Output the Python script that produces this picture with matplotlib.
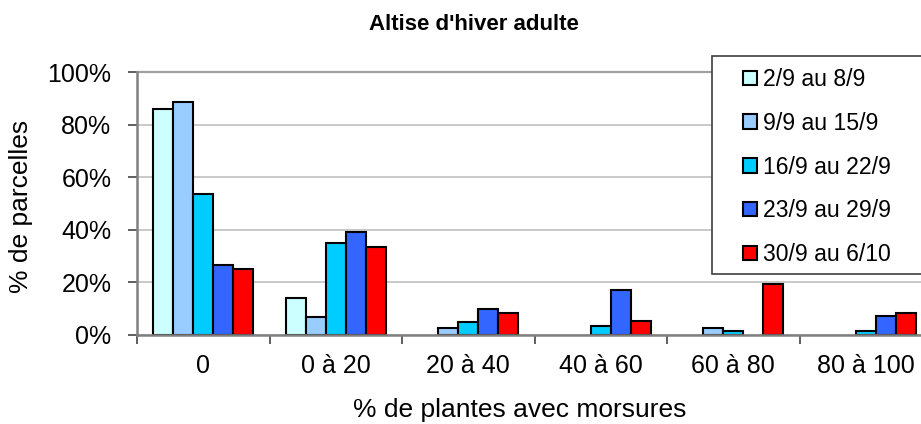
import matplotlib
matplotlib.use("Agg")
import matplotlib.pyplot as plt
from matplotlib.patches import Rectangle
import numpy as np

plt.rcParams['font.family'] = ['Liberation Sans', 'DejaVu Sans']

categories = ["0", "0 à 20", "20 à 40", "40 à 60", "60 à 80", "80 à 100"]
series_names = ["2/9 au 8/9", "9/9 au 15/9", "16/9 au 22/9", "23/9 au 29/9", "30/9 au 6/10"]
s1 = [85.8, 14.2, 0.0, 0.0, 0.0, 0.0]
s2 = [88.7, 6.8, 2.5, 0.0, 2.5, 0.0]
s3 = [53.5, 35.1, 5.1, 3.4, 1.6, 1.6]
s4 = [26.7, 39.0, 10.0, 17.1, 0.0, 7.3]
s5 = [25.0, 33.5, 8.2, 5.4, 19.4, 8.5]
series = [s1, s2, s3, s4, s5]
colors = ["#CCFFFF", "#99CCFF", "#00CCFF", "#3366FF", "#FF0000"]
yticks = [0, 20, 40, 60, 80, 100]

W, H = 921, 424
fig = plt.figure(figsize=(W / 100, H / 100), dpi=100)
ax = fig.add_axes([137 / W, (H - 335) / H, (932 - 137) / W, (335 - 72) / H])

x = np.arange(len(categories))
bw = 0.151
handles = []
for i, (vals, c, name) in enumerate(zip(series, colors, series_names)):
    edges = ["black" if v > 0 else "none" for v in vals]
    b = ax.bar(x + (i - 2) * bw, vals, width=bw, color=c,
               edgecolor=edges, linewidth=1.5, label=name, zorder=3)
    handles.append(Rectangle((0, 0), 1, 1, facecolor=c, edgecolor="black", linewidth=1.5))

ax.set_xlim(-0.5, len(categories) - 0.5)
ax.set_ylim(0, 100)
ax.set_yticks(yticks)
ax.set_yticklabels([f"{v}%" for v in yticks], fontsize=18)
ax.yaxis.grid(True, color="#c0c0c0", linewidth=1.2, zorder=0)
ax.set_axisbelow(True)

ax.set_xticks(x)
ax.set_xticklabels(categories, fontsize=18)
ax.tick_params(axis='x', length=0, pad=14)
ax.set_xticks(np.arange(-0.5, len(categories) + 0.5, 1), minor=True)
ax.tick_params(axis='x', which='minor', length=6.5, width=1.2, color="#444444", direction='out')
ax.tick_params(axis='y', length=6.5, width=1.2, color="#444444", pad=12)

for s in ['left', 'bottom']:
    ax.spines[s].set_color("#808080")
    ax.spines[s].set_linewidth(1.8)
    ax.spines[s].set_zorder(4)
ax.spines['top'].set_color("#a0a0a0")
ax.spines['top'].set_linewidth(1.6)
ax.spines['right'].set_visible(False)

fig.text(21 / W, 1 - 206.5 / H, "% de parcelles", fontsize=19, rotation=90,
         ha='center', va='center')
fig.text(520 / W, 1 - 410 / H, "% de plantes avec morsures", fontsize=19,
         ha='center', va='center')
fig.text(474 / W, 1 - 25 / H, "Altise d'hiver adulte", fontsize=16, fontweight='bold',
         ha='center', va='center')

# legend frame
fig.patches.append(Rectangle((712 / W, 1 - 274 / H), (940 - 712) / W, (274 - 56) / H,
                             transform=fig.transFigure, facecolor='white',
                             edgecolor="#404040", linewidth=1.2, zorder=4))
leg = fig.legend(handles=handles, labels=series_names, loc='upper left',
                 bbox_to_anchor=(743 / W, 1 - 68 / H),
                 bbox_transform=fig.transFigure, fontsize=16.6, frameon=False,
                 handlelength=0.6, handleheight=0.6, handletextpad=0.25,
                 labelspacing=0.9, borderpad=0, borderaxespad=0)
leg.set_zorder(5)

fig.savefig("out.png", dpi=100)
